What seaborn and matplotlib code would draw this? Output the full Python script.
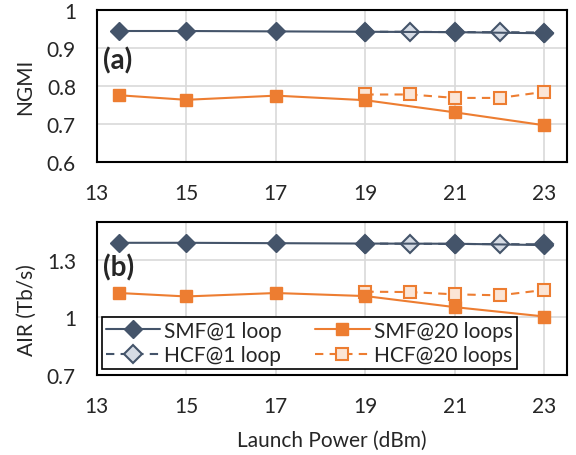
import matplotlib
matplotlib.use("Agg")
import matplotlib.pyplot as plt
import seaborn as sns
import numpy as np

# ---- data ----
x_smf = [13.5, 15, 17, 19, 21, 23]
x_hcf = [19, 20, 21, 22, 23]

ngmi_smf_1 = [0.944, 0.944, 0.943, 0.942, 0.941, 0.938]
ngmi_smf_20 = [0.775, 0.763, 0.774, 0.762, 0.730, 0.696]
ngmi_hcf_1 = [0.942, 0.942, 0.941, 0.941, 0.940]
ngmi_hcf_20 = [0.777, 0.777, 0.768, 0.768, 0.784]

air_smf_1 = [1.391, 1.391, 1.389, 1.387, 1.386, 1.379]
air_smf_20 = [1.128, 1.110, 1.128, 1.112, 1.054, 1.005]
air_hcf_1 = [1.387, 1.386, 1.385, 1.384, 1.383]
air_hcf_20 = [1.135, 1.133, 1.121, 1.116, 1.144]

x_ticks = [13, 15, 17, 19, 21, 23]
ngmi_ticks = [0.6, 0.7, 0.8, 0.9, 1.0]
ngmi_ticklabels = ["0.6", "0.7", "0.8", "0.9", "1"]
air_ticks = [0.7, 1.0, 1.3]
air_ticklabels = ["0.7", "1", "1.3"]

labels = ["SMF@1 loop", "HCF@1 loop", "SMF@20 loops", "HCF@20 loops"]

NAVY = "#44546a"
NAVY_FILL = "#d6dce5"
ORANGE = "#ed7d31"
ORANGE_FILL = "#fbe5d6"

sns.set_theme(style="white")
plt.rcParams["font.family"] = ["Lato", "DejaVu Sans"]
FS = 15

fig = plt.figure(figsize=(5.76, 4.56), dpi=100)
ax1 = fig.add_axes([0.168, 0.643, 0.816, 0.3335])
ax2 = fig.add_axes([0.168, 0.176, 0.816, 0.335])


def draw(ax, smf1, smf20, hcf1, hcf20):
    h = {}
    sns.lineplot(x=x_hcf, y=hcf20, ax=ax, color=ORANGE, lw=1.5, ls=(0, (4, 3)),
                 marker="s", ms=8.5, mfc=ORANGE_FILL, mec=ORANGE, mew=1.5, zorder=2)
    h["HCF@20 loops"] = ax.lines[-1]
    sns.lineplot(x=x_hcf, y=hcf1, ax=ax, color=NAVY, lw=1.5, ls=(0, (4, 3)),
                 marker="D", ms=9, mfc=NAVY_FILL, mec=NAVY, mew=1.5, zorder=2)
    h["HCF@1 loop"] = ax.lines[-1]
    sns.lineplot(x=x_smf, y=smf20, ax=ax, color=ORANGE, lw=1.5,
                 marker="s", ms=9, mfc=ORANGE, mec=ORANGE, mew=1, zorder=3)
    h["SMF@20 loops"] = ax.lines[-1]
    sns.lineplot(x=x_smf, y=smf1, ax=ax, color=NAVY, lw=1.5,
                 marker="D", ms=9.5, mfc=NAVY, mec=NAVY, mew=1, zorder=3)
    h["SMF@1 loop"] = ax.lines[-1]
    ax.set_xlim(13, 23.5)
    ax.set_xticks(x_ticks)
    ax.set_xticklabels([str(t) for t in x_ticks], fontsize=FS)
    ax.grid(True, color="#d9d9d9", lw=1.2)
    ax.set_axisbelow(True)
    for s in ax.spines.values():
        s.set_color("black")
        s.set_linewidth(1.5)
    ax.tick_params(axis="both", length=0, pad=15, labelsize=FS)
    ax.set_xlabel("")
    return h


h1 = draw(ax1, ngmi_smf_1, ngmi_smf_20, ngmi_hcf_1, ngmi_hcf_20)
ax1.set_ylim(0.6, 1.0)
ax1.set_yticks(ngmi_ticks)
ax1.set_yticklabels(ngmi_ticklabels, fontsize=FS)
ax1.set_ylabel("NGMI", fontsize=FS)
ax1.yaxis.set_label_coords(-0.131, 0.5)
ax1.text(0.014, 0.67, "(a)", transform=ax1.transAxes, fontsize=FS + 5,
         fontweight="bold", va="center", ha="left")

h2 = draw(ax2, air_smf_1, air_smf_20, air_hcf_1, air_hcf_20)
ax2.set_ylim(0.7, 1.5)
ax2.set_yticks(air_ticks)
ax2.set_yticklabels(air_ticklabels, fontsize=FS)
ax2.set_ylabel("AIR (Tb/s)", fontsize=FS)
ax2.yaxis.set_label_coords(-0.127, 0.43)
ax2.text(0.014, 0.707, "(b)", transform=ax2.transAxes, fontsize=FS + 5,
         fontweight="bold", va="center", ha="left")
ax2.set_xlabel("Launch Power (dBm)", fontsize=FS, labelpad=10)

leg = ax2.legend([h2[l] for l in labels], labels, ncol=2, loc="lower left",
                 bbox_to_anchor=(0.011, 0.037), fontsize=FS, frameon=True,
                 fancybox=False, borderpad=0.2, handlelength=2.6,
                 handletextpad=0.2, columnspacing=1.6, labelspacing=0.2,
                 borderaxespad=0)
leg.get_frame().set_edgecolor("black")
leg.get_frame().set_linewidth(1.2)
leg.get_frame().set_alpha(1)

fig.savefig("out.png", dpi=100)
